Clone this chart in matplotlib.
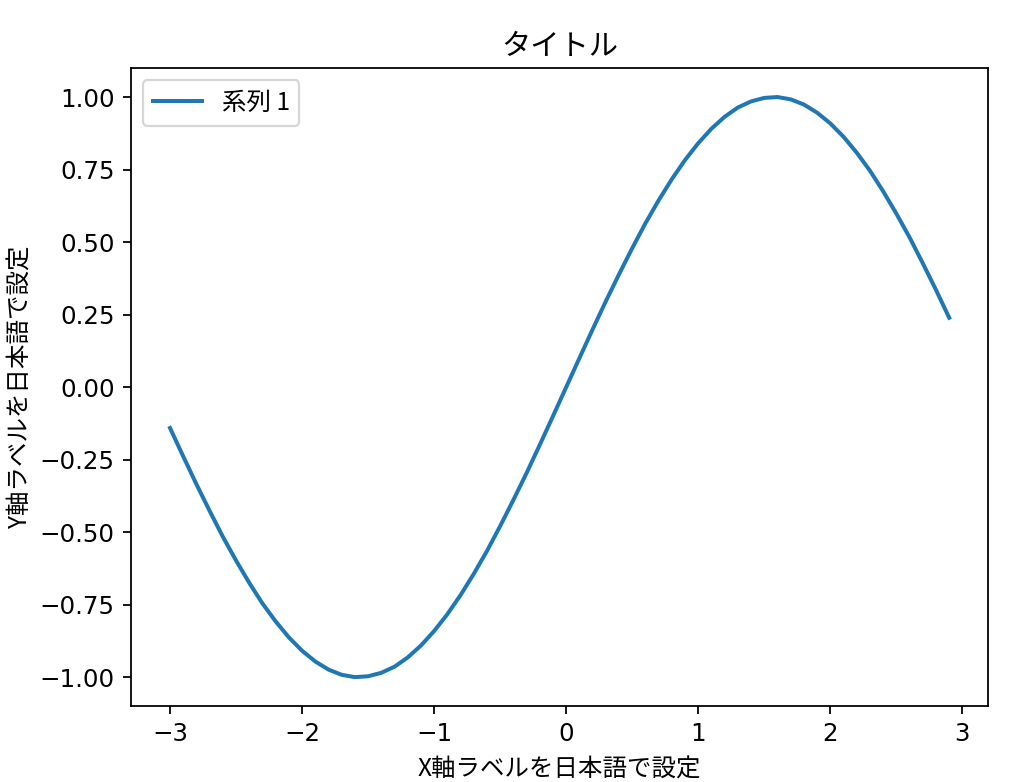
import matplotlib
matplotlib.use('Agg')
import matplotlib.pyplot as plt

plt.rcParams['font.family'] = ['DejaVu Sans', 'Noto Sans CJK JP']
plt.rcParams['font.size'] = 11

# x from -3.0 to 2.9, sine-shaped curve values
x_vals = [-3.0, -2.9, -2.8, -2.7, -2.6, -2.5, -2.4, -2.3, -2.2, -2.1,
          -2.0, -1.9, -1.8, -1.7, -1.6, -1.5, -1.4, -1.3, -1.2, -1.1,
          -1.0, -0.9, -0.8, -0.7, -0.6, -0.5, -0.4, -0.3, -0.2, -0.1,
          0.0, 0.1, 0.2, 0.3, 0.4, 0.5, 0.6, 0.7, 0.8, 0.9,
          1.0, 1.1, 1.2, 1.3, 1.4, 1.5, 1.6, 1.7, 1.8, 1.9,
          2.0, 2.1, 2.2, 2.3, 2.4, 2.5, 2.6, 2.7, 2.8, 2.9]
y_vals = [-0.141, -0.239, -0.335, -0.427, -0.516, -0.598, -0.675, -0.746, -0.808, -0.863,
          -0.909, -0.946, -0.974, -0.992, -1.000, -0.997, -0.985, -0.964, -0.932, -0.891,
          -0.841, -0.783, -0.717, -0.644, -0.565, -0.479, -0.389, -0.296, -0.199, -0.100,
          0.000, 0.100, 0.199, 0.296, 0.389, 0.479, 0.565, 0.644, 0.717, 0.783,
          0.841, 0.891, 0.932, 0.964, 0.985, 0.997, 1.000, 0.992, 0.974, 0.946,
          0.909, 0.863, 0.808, 0.746, 0.675, 0.598, 0.516, 0.427, 0.335, 0.239]
series_name = '系列 1'
title = 'タイトル'
x_label = 'X軸ラベルを日本語で設定'
y_label = 'Y軸ラベルを日本語で設定'
y_ticks = [-1.0, -0.75, -0.5, -0.25, 0.0, 0.25, 0.5, 0.75, 1.0]

cjk = ['Noto Sans CJK JP', 'DejaVu Sans']

fig = plt.figure(figsize=(6.4, 4.8875), dpi=160)
ax = fig.add_axes([0.128, 0.097, 0.837, 0.816])
ax.plot(x_vals, y_vals, label=series_name, linewidth=1.8, color='#1f77b4')
ax.set_yticks(y_ticks)
ax.set_xlim(-3.295, 3.195)
ax.set_ylim(-1.1, 1.1)
ax.tick_params(length=3.8)
ax.set_title(title, fontfamily=cjk, fontsize=13.2)
ax.set_xlabel(x_label, fontfamily=cjk, labelpad=4.5)
ax.set_ylabel(y_label, fontfamily=cjk, labelpad=3)
ax.legend(loc='upper left', prop={'family': cjk})
fig.savefig('out.png', dpi=160)
